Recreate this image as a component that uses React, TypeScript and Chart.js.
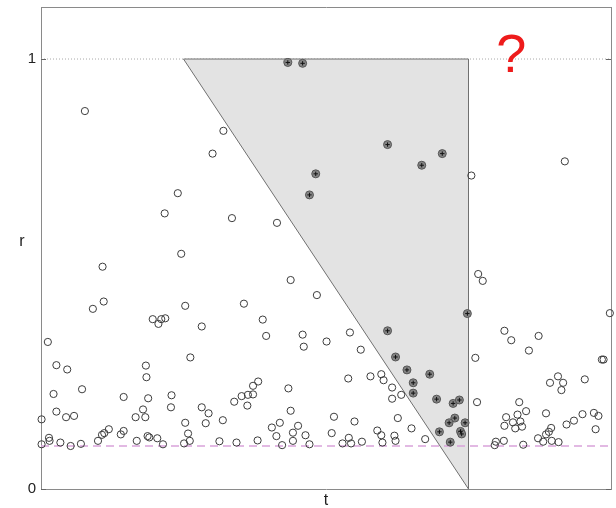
import { useEffect, useRef } from "react";
import { Chart, registerables } from "chart.js";

Chart.register(...registerables);

// Observations outside the shaded region (open circles)
const T_OUTSIDE = [
  0.077, 0.320, 0.301, 0.240, 0.217, 0.335, 0.414, 0.246, 0.755, 0.919,
  0.108, 0.438, 0.484, 0.091, 0.110, 0.253, 0.356, 0.196, 0.206, 0.211,
  0.218, 0.282, 0.389, 0.395, 0.459, 0.461, 0.012, 0.027, 0.046, 0.262,
  0.184, 0.185, 0.022, 0.072, 0.145, 0.188, 0.229, 0.228, 0.381, 0.372,
  0.363, 0.372, 0.352, 0.339, 0.362, 0.434, 0.438, 0.001, 0.027, 0.044,
  0.058, 0.179, 0.166, 0.183, 0.282, 0.294, 0.289, 0.319, 0.253, 0.258,
  0.261, 0.251, 0.405, 0.419, 0.413, 0.423, 0.442, 0.451, 0.464, 0.442,
  0.471, 0.001, 0.014, 0.015, 0.034, 0.052, 0.070, 0.100, 0.107, 0.111,
  0.119, 0.140, 0.145, 0.168, 0.187, 0.190, 0.204, 0.214, 0.313, 0.343,
  0.380, 0.767, 0.775, 0.998, 0.501, 0.542, 0.561, 0.762, 0.765, 0.813,
  0.825, 0.873, 0.856, 0.984, 0.987, 0.539, 0.578, 0.597, 0.601, 0.616,
  0.632, 0.616, 0.626, 0.514, 0.550, 0.650, 0.590, 0.597, 0.620, 0.622,
  0.599, 0.674, 0.510, 0.529, 0.540, 0.544, 0.563, 0.907, 0.893, 0.916,
  0.913, 0.954, 0.839, 0.851, 0.886, 0.816, 0.836, 0.828, 0.841, 0.813,
  0.832, 0.844, 0.895, 0.891, 0.886, 0.922, 0.935, 0.950, 0.970, 0.978,
  0.973, 0.798, 0.796, 0.812, 0.846, 0.872, 0.881, 0.896, 0.908,
];
const R_OUTSIDE = [
  0.879, 0.833, 0.780, 0.688, 0.641, 0.630, 0.619, 0.547, 0.729, 0.762,
  0.517, 0.486, 0.451, 0.419, 0.436, 0.426, 0.431, 0.395, 0.384, 0.395,
  0.397, 0.378, 0.394, 0.356, 0.359, 0.331, 0.342, 0.288, 0.278, 0.306,
  0.287, 0.260, 0.221, 0.232, 0.214, 0.211, 0.218, 0.190, 0.250, 0.240,
  0.219, 0.220, 0.216, 0.203, 0.194, 0.234, 0.182, 0.162, 0.180, 0.167,
  0.170, 0.185, 0.167, 0.167, 0.190, 0.176, 0.153, 0.160, 0.154, 0.129,
  0.112, 0.106, 0.143, 0.154, 0.123, 0.102, 0.131, 0.147, 0.125, 0.112,
  0.104, 0.104, 0.119, 0.112, 0.108, 0.100, 0.105, 0.112, 0.126, 0.130,
  0.139, 0.127, 0.135, 0.112, 0.123, 0.120, 0.118, 0.104, 0.111, 0.108,
  0.113, 0.500, 0.484, 0.409, 0.343, 0.364, 0.324, 0.305, 0.202, 0.368,
  0.346, 0.356, 0.322, 0.301, 0.301, 0.257, 0.262, 0.267, 0.253, 0.236,
  0.219, 0.210, 0.165, 0.168, 0.157, 0.141, 0.136, 0.125, 0.124, 0.112,
  0.108, 0.116, 0.130, 0.106, 0.119, 0.106, 0.110, 0.262, 0.247, 0.247,
  0.230, 0.255, 0.202, 0.181, 0.176, 0.167, 0.173, 0.155, 0.157, 0.147,
  0.141, 0.145, 0.142, 0.133, 0.127, 0.150, 0.159, 0.174, 0.177, 0.170,
  0.139, 0.110, 0.102, 0.112, 0.103, 0.118, 0.110, 0.112, 0.109,
];

// Observations inside the shaded region (filled markers)
const T_INSIDE = [
  0.433, 0.459, 0.482, 0.471, 0.608, 0.704, 0.668, 0.748, 0.608, 0.622,
  0.642, 0.682, 0.653, 0.653, 0.694, 0.723, 0.734, 0.726, 0.716, 0.744,
  0.699, 0.736, 0.738, 0.718,
];
const R_INSIDE = [
  0.992, 0.990, 0.733, 0.684, 0.801, 0.780, 0.753, 0.408, 0.368, 0.307,
  0.277, 0.267, 0.247, 0.223, 0.209, 0.199, 0.207, 0.165, 0.154, 0.154,
  0.133, 0.134, 0.128, 0.109,
];

// Shaded triangular region (closed outline)
const REGION_T = [0.25, 0.75, 0.75, 0.25];
const REGION_R = [1, 1, 0, 1];

// Reference levels
const THRESHOLD_R = 0.1;
const CEILING_R = 1;

const T_RANGE = [0, 1];
const R_RANGE = [0, 1.121];
const R_TICKS = [0, 1];

const T_TITLE = "t";
const R_TITLE = "r";
const NOTE_TEXT = "?";
const NOTE_T = 0.825;
const NOTE_R = 0.97;

const FONT = '"Liberation Sans", Arial, sans-serif';
const FRAME = "#8a8a8a";

const toPoints = (xs: number[], ys: number[]) => xs.map((x, i) => ({ x, y: ys[i] }));

const textPlugin = {
  id: "plotText",
  afterDraw(chart: any) {
    const { ctx, chartArea: a, scales } = chart;
    ctx.save();
    ctx.fillStyle = "#222";
    ctx.font = `16px ${FONT}`;
    ctx.textAlign = "center";
    ctx.textBaseline = "middle";
    ctx.fillText(R_TITLE, a.left - 19, (a.top + a.bottom) / 2 - 6);
    ctx.fillText(T_TITLE, (a.left + a.right) / 2, a.bottom + 12);

    // small inward ticks on the r axis
    ctx.strokeStyle = "#666";
    ctx.lineWidth = 1;
    for (const v of R_TICKS) {
      const py = Math.round(scales.y.getPixelForValue(v)) + 0.5;
      ctx.beginPath();
      ctx.moveTo(a.left, py);
      ctx.lineTo(a.left + 5, py);
      ctx.moveTo(a.right, py);
      ctx.lineTo(a.right - 5, py);
      ctx.stroke();
    }

    ctx.fillStyle = "#ee1b1b";
    ctx.font = `54px ${FONT}`;
    ctx.textBaseline = "alphabetic";
    ctx.fillText(NOTE_TEXT, scales.x.getPixelForValue(NOTE_T), scales.y.getPixelForValue(NOTE_R));
    ctx.restore();
  },
};

export default function App() {
  const canvasRef = useRef<HTMLCanvasElement | null>(null);

  useEffect(() => {
    const canvas = canvasRef.current;
    if (!canvas) return;

    const hiddenAxis = {
      ticks: { display: false },
      grid: { display: false, drawTicks: false },
      border: { display: true, color: FRAME, width: 1 },
    };

    const chart = new Chart(canvas, {
      type: "scatter",
      data: {
        datasets: [
          {
            label: "inside-centre",
            data: toPoints(T_INSIDE, R_INSIDE),
            pointStyle: "cross",
            pointRadius: 2.2,
            borderColor: "#111",
            borderWidth: 1,
            backgroundColor: "#111",
            order: 0,
            clip: false,
          } as any,
          {
            label: "inside",
            data: toPoints(T_INSIDE, R_INSIDE),
            pointRadius: 4,
            borderColor: "#555",
            borderWidth: 1,
            backgroundColor: "#858585",
            order: 1,
            clip: false,
          },
          {
            label: "outside",
            data: toPoints(T_OUTSIDE, R_OUTSIDE),
            pointRadius: 3.6,
            borderColor: "#3c3c3c",
            borderWidth: 1,
            backgroundColor: "rgba(255,255,255,0)",
            order: 2,
            clip: false,
          },
          {
            label: "threshold",
            data: toPoints(T_RANGE, [THRESHOLD_R, THRESHOLD_R]),
            showLine: true,
            pointRadius: 0,
            borderColor: "#d9a2da",
            borderWidth: 1.5,
            borderDash: [8, 5],
            order: 5,
          } as any,
          {
            label: "region",
            data: toPoints(REGION_T, REGION_R),
            showLine: true,
            fill: "shape",
            pointRadius: 0,
            borderColor: "#707070",
            borderWidth: 1,
            backgroundColor: "#e3e3e3",
            order: 8,
          } as any,
          {
            label: "ceiling",
            data: toPoints(T_RANGE, [CEILING_R, CEILING_R]),
            showLine: true,
            pointRadius: 0,
            borderColor: "#a8a8a8",
            borderWidth: 1,
            borderDash: [1, 2],
            order: 9,
          } as any,
        ],
      },
      options: {
        animation: false,
        responsive: false,
        events: [],
        layout: { padding: 0 },
        plugins: { legend: { display: false }, tooltip: { enabled: false } },
        scales: {
          x: {
            type: "linear",
            position: "bottom",
            min: T_RANGE[0],
            max: T_RANGE[1],
            ...hiddenAxis,
            afterFit(s: any) {
              s.height = 19;
              s.paddingLeft = 0;
              s.paddingRight = 0;
            },
          },
          x2: {
            type: "linear",
            axis: "x",
            position: "top",
            min: T_RANGE[0],
            max: T_RANGE[1],
            ...hiddenAxis,
            afterFit(s: any) {
              s.height = 7;
              s.paddingLeft = 0;
              s.paddingRight = 0;
            },
          },
          y: {
            type: "linear",
            position: "left",
            min: R_RANGE[0],
            max: R_RANGE[1],
            grid: { display: false, drawTicks: false },
            border: { display: true, color: FRAME, width: 1 },
            ticks: {
              padding: 5,
              color: "#222",
              font: { family: FONT, size: 15 },
            },
            afterBuildTicks(s: any) {
              s.ticks = R_TICKS.map((value) => ({ value }));
            },
            afterFit(s: any) {
              s.width = 41;
              s.paddingTop = 0;
              s.paddingBottom = 0;
            },
          },
          y2: {
            type: "linear",
            axis: "y",
            position: "right",
            min: R_RANGE[0],
            max: R_RANGE[1],
            ...hiddenAxis,
            afterFit(s: any) {
              s.width = 4;
              s.paddingTop = 0;
              s.paddingBottom = 0;
            },
          },
        } as any,
      },
      plugins: [textPlugin],
    });

    return () => chart.destroy();
  }, []);

  return (
    <div style={{ position: "fixed", left: 0, top: 0, width: 616, height: 508, background: "#fff" }}>
      <canvas ref={canvasRef} width={616} height={508} />
    </div>
  );
}
